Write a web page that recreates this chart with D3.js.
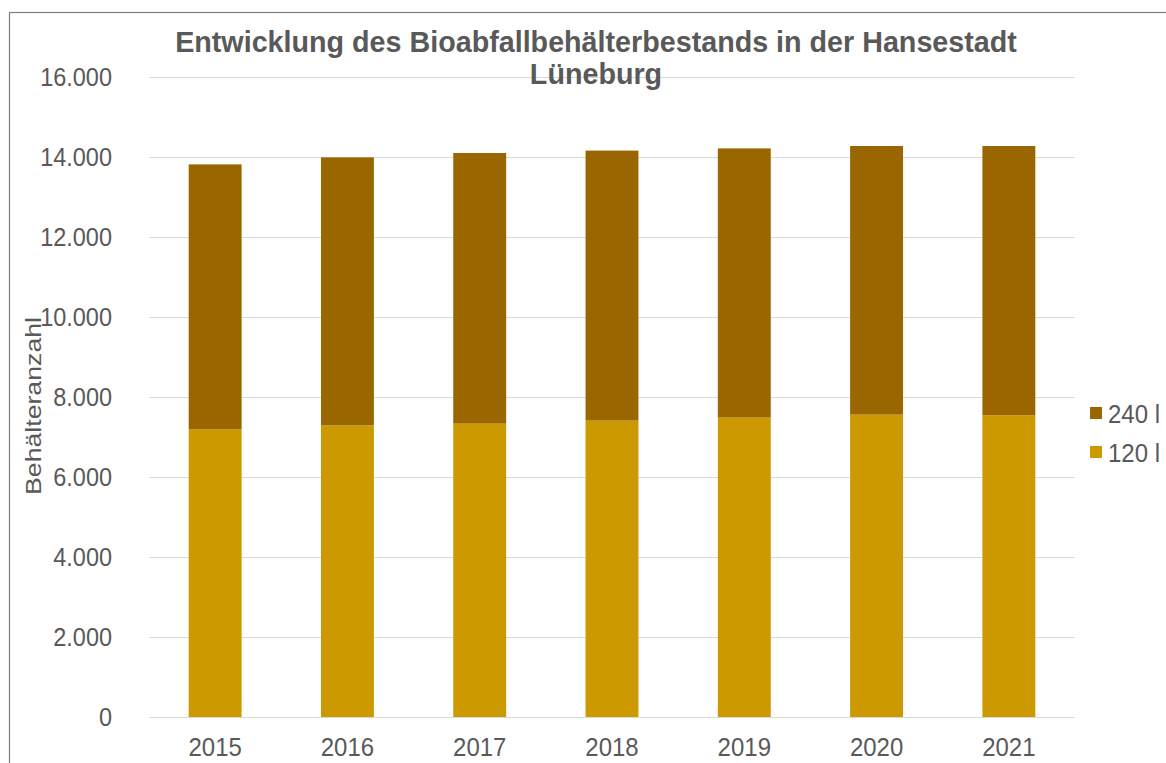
<!DOCTYPE html>
<html><head><meta charset="utf-8">
<script src="https://cdn.jsdelivr.net/npm/d3@7"></script>
<style>
body{margin:0;background:#fff;}
svg{display:block;font-family:"Liberation Sans",Arial,sans-serif;}
</style></head>
<body>
<svg id="c" width="1166" height="763"></svg>
<script>
const years = ["2015","2016","2017","2018","2019","2020","2021"];
const liter120 = [7190, 7290, 7335, 7410, 7485, 7560, 7545];
const liter240 = [6625, 6700, 6765, 6750, 6730, 6715, 6730];
const seriesNames = ["120 l", "240 l"];
const yTicks = [0, 2000, 4000, 6000, 8000, 10000, 12000, 14000, 16000];
const titleLines = ["Entwicklung des Bioabfallbehälterbestands in der Hansestadt", "Lüneburg"];
const yAxisTitle = "Behälteranzahl";

const colors = {"120 l": "#CC9900", "240 l": "#996600"};
const txt = "#595959";
const vs = 1.1; // vertical text stretch seen in reference
const svg = d3.select("#c");

// outer border
svg.append("rect").attr("x", 9.5).attr("y", 12.5).attr("width", 1200).attr("height", 800)
  .attr("fill", "none").attr("stroke", "#7f7f7f").attr("stroke-width", 1.2);

const x = d3.scaleBand().domain(years).range([149, 1075]).paddingInner(0.6).paddingOuter(0.3);
const y = d3.scaleLinear().domain([0, 16000]).range([717, 77]);
const loc = d3.formatLocale({decimal: ",", thousands: ".", grouping: [3], currency: ["", "€"]});
const fmt = loc.format(",d");

// gridlines
svg.append("g").selectAll("line").data(yTicks).join("line")
  .attr("x1", 149).attr("x2", 1075)
  .attr("y1", d => Math.round(y(d)) + 0.5).attr("y2", d => Math.round(y(d)) + 0.5)
  .attr("stroke", "#D9D9D9").attr("stroke-width", 1);

// y tick labels
svg.append("g").selectAll("text").data(yTicks).join("text")
  .attr("transform", d => `translate(112,${y(d)}) scale(1,${vs})`)
  .attr("dy", "0.35em")
  .attr("text-anchor", "end").attr("fill", txt).attr("font-size", 23.5)
  .text(d => fmt(d));

// stacked data
const rows = years.map((yr, i) => ({year: yr, "120 l": liter120[i], "240 l": liter240[i]}));
const stack = d3.stack().keys(seriesNames)(rows);

svg.append("g").selectAll("g").data(stack).join("g")
  .attr("fill", d => colors[d.key])
  .selectAll("rect").data(d => d).join("rect")
  .attr("x", d => x(d.data.year))
  .attr("width", x.bandwidth())
  .attr("y", d => y(d[1]))
  .attr("height", d => y(d[0]) - y(d[1]));

// x labels
svg.append("g").selectAll("text").data(years).join("text")
  .attr("transform", d => `translate(${x(d) + x.bandwidth() / 2},756) scale(1,${vs})`)
  .attr("text-anchor", "middle").attr("fill", txt).attr("font-size", 24)
  .text(d => d);

// title
const title = svg.append("text").attr("text-anchor", "middle").attr("fill", txt)
  .attr("font-weight", "bold").attr("font-size", 21);
title.selectAll("tspan").data(titleLines).join("tspan")
  .attr("x", 596).attr("y", (d, i) => 52 + i * 32).text(d => d);
const w = title.select("tspan").node().getComputedTextLength();
title.attr("font-size", 21 * 842 / w);

// y axis title
svg.append("text").attr("transform", "translate(41,406) rotate(-90)")
  .attr("text-anchor", "middle").attr("fill", txt).attr("font-size", 22.5)
  .attr("textLength", 178).attr("lengthAdjust", "spacingAndGlyphs")
  .text(yAxisTitle);

// legend
const legendItems = ["240 l", "120 l"];
const lg = svg.append("g").selectAll("g").data(legendItems).join("g")
  .attr("transform", (d, i) => `translate(1090,${407 + i * 39})`);
lg.append("rect").attr("width", 12).attr("height", 12).attr("fill", d => colors[d]);
lg.append("text").attr("transform", `translate(18,6) scale(1,${vs})`).attr("dy", "0.36em")
  .attr("fill", txt).attr("font-size", 24).text(d => d);
</script>
</body></html>
